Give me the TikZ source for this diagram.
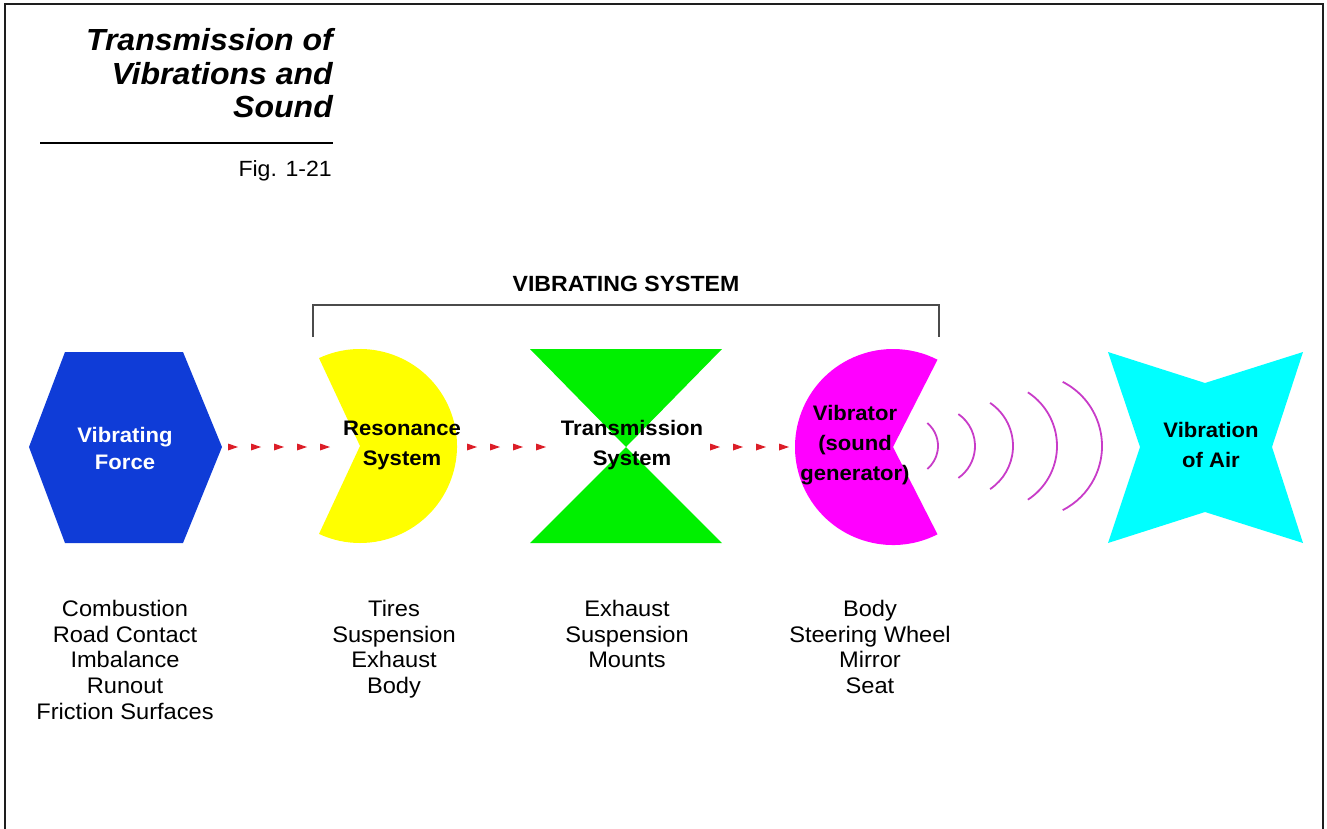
\documentclass[tikz,border=0pt]{standalone}
\usepackage{fontspec}
\setmainfont{Liberation Sans}[FakeStretch=1.05]
\usetikzlibrary{decorations.markings}
\definecolor{hexblue}{RGB}{15,60,215}
\definecolor{pacyellow}{RGB}{255,255,0}
\definecolor{hgreen}{RGB}{0,240,0}
\definecolor{pacmag}{RGB}{255,0,255}
\definecolor{starcyan}{RGB}{0,255,255}
\definecolor{wavecol}{RGB}{200,60,200}
\definecolor{arrred}{RGB}{220,30,40}
\definecolor{framecol}{RGB}{30,30,30}
\begin{document}
\begin{tikzpicture}[x=1pt,y=-1pt,
  ttl/.style={inner sep=0pt,font=\fontsize{30.5}{33.5}\selectfont\bfseries\itshape},
  fig/.style={inner sep=0pt,font=\fontsize{22}{26}\selectfont},
  grp/.style={inner sep=0pt,font=\fontsize{22}{26}\selectfont\bfseries},
  lbl/.style={inner sep=0pt,align=center,font=\fontsize{21}{30}\selectfont\bfseries},
  lst/.style={inner sep=0pt,align=center,anchor=north,font=\fontsize{22.5}{25.7}\selectfont},
  redarrows/.style={decoration={markings,
      mark=between positions 0 and 1 step 23pt with {\fill[arrred] (0,3.5) -- (10,0) -- (0,-3.5) -- cycle;}},
      postaction={decorate}},
  wave/.style={draw=wavecol,line width=1.8pt},
  bracket/.style={draw=framecol!80,line width=2pt}
]
\useasboundingbox (0,0) rectangle (1327,828);
% frame
\draw[framecol,line width=2pt] (5,830) -- (5,4) -- (1323,4) -- (1323,830);

% title
\node[ttl,anchor=base east] (t1) at (333,50) {Transmission of};
\node[ttl,anchor=base east] (t2) at (333,84) {Vibrations and};
\node[ttl,anchor=base east] (t3) at (333,117) {Sound};
\coordinate (rulel) at (40,143);
\coordinate (ruler) at (333,143);
\draw[line width=1.2pt] (rulel) -- (ruler);
\node[fig,anchor=base east] (fig) at (332,176) {Fig. 1-21};

% vibrating system bracket
\node[grp] (vs) at (626,284) {VIBRATING SYSTEM};
\coordinate (bl) at (313,337);
\coordinate (br) at (939,337);
\draw[bracket] (bl) -- (313,305) -- (939,305) -- (br);

% hexagon
\fill[hexblue] (29,447) -- (65,352) -- (183,352) -- (222,447) -- (183,543) -- (65,543) -- cycle;
\node[lbl,text=white,font=\fontsize{21}{27}\selectfont\bfseries] (force) at (125,448) {Vibrating\\Force};

% yellow pacman
\coordinate (resc) at (360,446);
\fill[pacyellow] (resc) -- ++(-115:97) arc[start angle=-115,end angle=115,radius=97] -- cycle;
\node[lbl] (res) at (402,445) {Resonance\\System};

% green hourglass
\coordinate (trc) at (626,447);
\fill[hgreen] (530,349) -- (722,349) -- (trc) -- cycle;
\fill[hgreen] (530,543) -- (722,543) -- (trc) -- cycle;
\node[lbl] (tr) at (632,445) {Transmission\\System};

% magenta pacman
\coordinate (vibc) at (893,447);
\fill[pacmag] (vibc) -- ++(63:98) arc[start angle=63,end angle=297,radius=98] -- cycle;
\node[lbl] (vib) at (855,445) {Vibrator\\(sound\\generator)};

% cyan star
\fill[starcyan] (1108,352) -- (1205,383) -- (1303,352) -- (1272,447) -- (1303,543) -- (1205,512) -- (1108,543) -- (1140,447) -- cycle;
\node[lbl] (air) at (1211,445) {Vibration\\of Air};

% red dashed connectors
\coordinate (a1s) at (228,447); \coordinate (a1e) at (324,447);
\coordinate (a2s) at (467,447); \coordinate (a2e) at (540,447);
\coordinate (a3s) at (710,447); \coordinate (a3e) at (783,447);
\path[redarrows] (a1s) -- (a1e);
\path[redarrows] (a2s) -- (a2e);
\path[redarrows] (a3s) -- (a3e);

% sound waves
\draw[wave] (908,446) ++(-50:30) arc[start angle=-50,end angle=50,radius=30];
\draw[wave] (936,446) ++(-55:39) arc[start angle=-55,end angle=55,radius=39];
\draw[wave] (961,446) ++(-56:52) arc[start angle=-56,end angle=56,radius=52];
\draw[wave] (993,446) ++(-57:64) arc[start angle=-57,end angle=57,radius=64];
\draw[wave] (1030,446) ++(-63:72) arc[start angle=-63,end angle=63,radius=72];

% lists
\node[lst] (l1) at (125,600) {Combustion\\Road Contact\\Imbalance\\Runout\\Friction Surfaces};
\node[lst] (l2) at (394,600) {Tires\\Suspension\\Exhaust\\Body};
\node[lst] (l3) at (627,600) {Exhaust\\Suspension\\Mounts};
\node[lst] (l4) at (870,600) {Body\\Steering Wheel\\Mirror\\Seat};
\end{tikzpicture}
\end{document}
